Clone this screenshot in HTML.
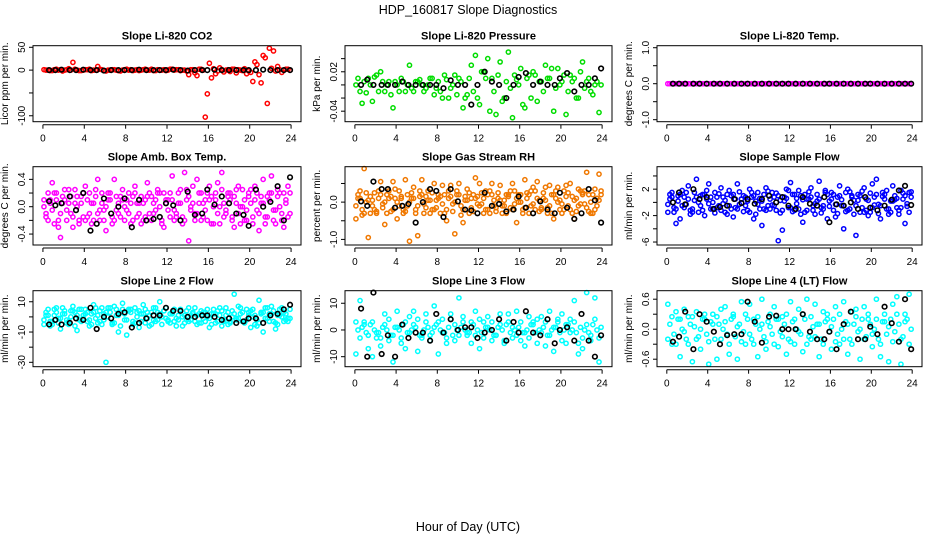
<!DOCTYPE html>
<html><head><meta charset="utf-8"><style>
html,body{margin:0;padding:0;background:#fff;}
svg{display:block;font-family:"Liberation Sans",sans-serif;}
</style></head><body>
<svg id="chart" width="936" height="540" viewBox="0 0 936 540">
<text x="468" y="14" text-anchor="middle" font-size="12.5">HDP_160817  Slope Diagnostics</text>
<text x="468" y="531" text-anchor="middle" font-size="12.5">Hour of Day (UTC)</text>
</svg>
<script>
const hours=[0.1,0.5,0.9,1.3,1.7,2.1,2.5,2.9,3.3,3.7,4.1,4.5,4.9,5.3,5.7,6.1,6.5,6.9,7.3,7.7,8.1,8.5,8.9,9.3,9.7,10.1,10.5,10.9,11.3,11.7,12.1,12.5,12.9,13.3,13.7,14.1,14.5,14.9,15.3,15.7,16.1,16.5,16.9,17.3,17.7,18.1,18.5,18.9,19.3,19.7,20.1,20.5,20.9,21.3,21.7,22.1,22.5,22.9,23.3,23.7];
const hoursB=[0.3,0.7,1.1,1.5,1.9,2.3,2.7,3.1,3.5,3.9,4.3,4.7,5.1,5.5,5.9,6.3,6.7,7.1,7.5,7.9,8.3,8.7,9.1,9.5,9.9,10.3,10.7,11.1,11.5,11.9,12.3,12.7,13.1,13.5,13.9,14.3,14.7,15.1,15.5,15.9,16.3,16.7,17.1,17.5,17.9,18.3,18.7,19.1,19.5,19.9,20.3,20.7,21.1,21.5,21.9,22.3,22.7,23.1,23.5,23.9];
const blackHours=[0.6,1.2,1.8,2.6,3.2,3.9,4.6,5.2,5.9,6.6,7.3,7.9,8.6,9.3,10.0,10.7,11.3,11.9,12.6,13.3,14.0,14.7,15.4,15.9,16.6,17.3,18.0,18.7,19.4,19.9,20.6,21.3,22.0,22.7,23.3,23.9];
const xTicks=[0,4,8,12,16,20,24];

const co2A=[1,0,-1,2,1,0,3,17,0,-1,1,2,0,8,1,-2,0,1,-1,0,2,1,0,-1,1,0,2,-1,0,1,0,2,1,-1,0,-10,1,-12,2,-103,15,3,-2,1,0,-3,2,1,-1,-8,-5,18,-10,32,-73,4,-2,1,0,2];
const co2B=[0,-1,1,0,-2,1,0,2,-1,0,1,-1,0,2,-1,0,1,0,-2,1,0,-1,1,0,2,0,-1,1,0,-1,2,0,1,0,-2,1,-6,2,0,-52,-17,-8,5,-4,1,2,-6,0,3,-2,-25,12,-28,27,48,42,8,-5,2,0];
const co2K=[0,0,1,0,0,1,0,0,-1,0,0,0,0,1,0,0,0,0,1,0,-1,0,0,0,1,0,0,0,0,0,0,1,0,0,0,0];

const presA=[0,-0.01,0.005,0.01,-0.025,0.015,0.02,-0.01,0.005,-0.035,0,0.01,-0.01,0.03,-0.01,0.005,0,-0.005,0.01,-0.015,0.005,-0.02,0.008,-0.005,0.015,0.01,-0.035,-0.015,0.03,0.045,-0.03,0.02,0.04,0.01,-0.045,0.035,-0.02,0.05,-0.05,0.008,0.025,-0.035,0.015,0.02,-0.025,0.005,0.03,0.01,-0.04,0.025,0.005,-0.045,0.015,0.01,-0.02,0.035,0.005,-0.01,0,-0.042];
const presB=[0.01,-0.028,-0.012,0,0.012,-0.01,0.005,0,-0.015,0.005,-0.01,0.005,0,-0.005,0.005,0.008,-0.01,0,0.01,-0.005,-0.01,0.015,-0.02,0,-0.015,0.005,-0.02,0.01,-0.01,-0.02,0.02,0.01,-0.04,-0.01,0.015,-0.025,0.005,-0.005,0.015,0,-0.03,0.01,-0.02,0.015,0.005,-0.01,0.01,0.025,-0.005,0,0.015,-0.01,0.005,-0.02,0.02,-0.005,0.01,-0.015,0.005,0];
const presK=[0,0.008,0,0,0,0,0.005,0,0,0,0,0,-0.005,0.007,0,0,-0.03,0,0.02,0.005,0,-0.02,0,0.012,0.018,0,0.005,0,0,0.01,0.018,-0.01,0,0,0.01,0.025];

const tempA=[0,0,0,0,0,0,0,0,0,0,0,0,0,0,0,0,0,0,0,0,0,0,0,0,0,0,0,0,0,0,0,0,0,0,0,0,0,0,0,0,0,0,0,0,0,0,0,0,0,0,0,0,0,0,0,0,0,0,0,0];
const tempK=[0,0,0,0,0,0,0,0,0,0,0,0,0,0,0,0,0,0,0,0,0,0,0,0,0,0,0,0,0,0,0,0,0,0,0,0];

const ambA=[0.1,-0.2,0.35,0.2,-0.45,0.1,0.25,-0.3,0,0.15,0.3,-0.1,-0.2,0.4,0.05,-0.35,0.2,0.4,-0.1,0.25,0.1,-0.25,0.3,0.05,-0.2,0.35,0.15,-0.05,0.2,-0.3,0.1,0.45,-0.15,0.25,0.5,-0.5,0.3,0.4,-0.2,0.1,0.3,-0.25,0.35,0.5,-0.1,0.2,-0.3,0.3,0.25,-0.2,0.05,0.3,-0.35,0.4,0.15,0.45,-0.25,0.2,-0.3,0.3];
const ambB=[-0.1,0.05,-0.25,-0.3,0.15,-0.2,-0.1,0.05,-0.2,-0.15,0.1,-0.25,0.15,-0.05,-0.2,0.1,-0.15,-0.05,0.15,-0.2,-0.1,0.15,-0.15,-0.25,0.1,-0.1,0.05,0.2,-0.2,0.05,-0.15,-0.05,0.2,-0.15,0.1,-0.05,-0.2,0.05,-0.15,0.2,-0.25,0.1,0,-0.15,0.15,-0.2,0.05,-0.25,0.1,0.2,-0.15,-0.05,0.15,-0.25,0.2,-0.05,0.15,-0.2,0.1,-0.1];
const ambC=[0,0.2,-0.05,0.1,-0.1,0.25,0.05,-0.15,0.15,0.05,-0.2,0.2,0.05,-0.1,0.2,0,0.1,-0.2,0.05,0.1,-0.05,0.05,0.2,-0.1,0.05,0.15,-0.2,0.1,0,0.2,-0.05,0.1,-0.1,0.05,-0.2,0.15,0.05,-0.1,0.2,-0.05,0.1,0,-0.1,0.25,-0.05,0.1,0.15,-0.1,0,-0.05,0.25,0.1,-0.1,0.05,-0.15,0.2,-0.05,0,0.2,-0.15];
const ambD=[-0.15,0.1,0.2,-0.2,0.05,-0.05,0.15,0.25,-0.25,0.2,-0.15,0.05,0.25,-0.2,-0.05,0.2,-0.25,0.15,-0.15,0,0.2,-0.2,0.05,0.15,-0.15,0.2,-0.1,0.25,-0.25,0.1,0.2,-0.2,0.05,-0.25,0.25,0,-0.1,0.2,0.05,-0.2,0.15,0.2,-0.25,0.05,0.2,-0.15,0.25,0,-0.2,0.15,-0.25,0.2,0.05,-0.15,0.1,-0.2,0.25,-0.1,0.05,0.2];
const ambK=[0.08,0.02,0.05,0.15,-0.05,0.2,-0.35,-0.25,0.12,-0.1,0,0.12,-0.3,0.1,-0.2,-0.18,-0.15,0.05,0.02,-0.2,0.22,-0.12,-0.1,0.25,0.03,0.15,0.05,-0.1,-0.12,-0.28,0.25,0,0.07,0.3,-0.2,0.43];

const rhA=[-0.45,0.3,0.9,-0.95,0.05,-0.3,0.55,-0.6,0.3,0.55,-0.45,0.1,0.6,-1.05,0.4,-0.9,0.6,0.15,-0.3,0.5,0.2,0.45,-0.5,0.45,-0.85,0.5,-0.55,0.35,0.1,0.65,0.5,-0.3,0.2,0.5,-0.15,0.45,0.05,0.2,0.5,-0.55,0.2,0.6,-0.3,0.4,0.55,-0.2,0.4,0.45,-0.45,0.4,-0.3,0.45,0.5,-0.45,0.35,0.25,0.8,-0.3,0.35,0.75];
const rhB=[0.2,-0.2,0,-0.3,0.25,0.1,-0.15,0.2,-0.25,0.1,0.3,-0.2,-0.1,0.25,-0.3,0.15,-0.05,0.3,-0.2,0.05,-0.3,0.2,0.1,-0.25,0.3,-0.1,0.15,-0.3,0.2,-0.05,0.25,-0.2,0.3,-0.1,0.1,-0.3,0.2,-0.15,0.3,0,-0.2,0.25,-0.1,0.3,-0.25,0.1,-0.3,0.2,0.1,-0.2,0.3,-0.1,0.15,-0.25,0.3,-0.05,0.2,-0.3,0.1,0.2];
const rhC=[-0.1,0.1,-0.3,0.05,-0.1,-0.25,0.2,0,0.1,-0.2,0,0.15,-0.25,0,0.1,-0.1,0.2,-0.15,0.05,-0.2,0.1,-0.05,-0.2,0.15,0,0.2,-0.2,0.05,-0.15,0.1,-0.1,0.1,-0.2,0.2,-0.25,0.05,-0.1,0.15,-0.2,0.1,0,-0.15,0.2,-0.05,0.1,-0.15,0.05,-0.1,0.2,0,-0.05,0.15,-0.2,0.05,-0.1,0.2,-0.15,0,-0.2,0.05];
const rhD=[0.1,-0.35,0.25,0.15,-0.2,0.3,-0.05,-0.3,0.15,0.35,-0.1,-0.3,0.2,0.1,-0.2,0.3,-0.3,0.05,0.25,-0.15,0.15,-0.3,0.3,-0.05,0.2,-0.35,0.05,0.25,-0.25,0.15,-0.05,0.3,-0.3,0.05,0.25,-0.1,-0.3,0.3,-0.05,0.2,-0.3,0.1,0.3,-0.2,0.05,0.25,-0.15,-0.3,0.3,0.05,-0.2,0.25,-0.3,0.1,-0.05,0.3,-0.25,0.2,-0.1,0.3];
const rhK=[0.02,-0.1,0.55,0.35,0.35,-0.15,-0.1,-0.05,-0.55,0,0.35,0.3,-0.4,0.35,0.02,-0.2,-0.22,-0.3,0.25,-0.1,-0.05,-0.25,-0.2,0.15,-0.15,-0.3,0.02,-0.2,-0.3,0.25,-0.15,-0.45,-0.3,0.35,0.05,-0.55];

const sfA=[-1.5,1.5,-3.2,-2.5,0.8,2.5,-1,3.5,1,-2,2.8,0,-0.8,2.2,-1.5,1.8,-2.2,2.8,0.5,-0.5,2,-2.5,1.5,-3.5,2.2,-1,0.8,-5.8,-4.2,2,3,-1.2,1.8,-3,0.5,2.2,-1.8,3.2,-0.5,-2.5,1.5,-2.2,2.5,-4,2,1,-5,-1.5,2.2,-2,2.8,3.5,-2.5,1.2,-1.8,2.5,-0.8,1.8,-3.2,1.5];
const sfB=[0.5,-0.8,1,-0.5,1.5,-1.2,0.3,-1.5,1.2,0.5,-1,1.5,-0.5,0.8,1.2,-1,0.5,-0.3,1,-1.2,0.8,0.2,-1,1.2,-0.5,1.5,-1.2,0.3,0.8,-0.8,1.2,-0.2,1,-1.5,0.5,-0.5,1.2,-0.8,1.5,0.2,-1.2,0.8,-0.5,1.5,-1,0.3,1.2,-0.8,0.5,-1.5,0.8,-0.3,1.5,-1,0.2,1,-1.2,0.5,-0.2,0.8];
const sfC=[-0.3,0.8,-1,1.2,-0.8,0.5,-1.5,0.8,-0.5,1.2,-0.2,-1,0.8,-1.2,0.3,-0.5,1.2,-1,0.5,0.8,-1.5,1,-0.3,0.2,-1.2,0.5,-0.5,1,-1.2,0.6,-0.8,1.2,-1,0.4,-1.2,0.8,-0.2,0.5,-1,1.2,0.5,-0.3,1,-0.5,-1.2,0.8,-0.5,1,-1.5,0.3,-0.8,1.2,-0.5,0.5,-1,0.2,0.6,-0.8,1,-1.5];
const sfD=[1.2,-1.5,0.2,1.8,-0.3,-1.8,1.5,0,-1.2,1.8,0.8,-1.6,1.3,-0.2,-1.8,1,-0.8,1.6,-1.4,0.2,1.5,-1.8,0.6,-1,1.7,-0.4,1.4,-1.6,0.2,1.8,-1.4,0.6,-1.8,1.2,1.6,-1.2,0.2,-1.6,1.8,-0.6,1.2,-1.7,0.4,-1.4,1.6,-1.8,0.3,1.7,-1.2,1.4,-0.4,-1.7,0.9,1.8,-1.5,0.4,-1.8,1.4,-0.6,1.6];
const sfK=[0,1.5,-0.3,2,0.5,0.8,-1,-0.7,-0.5,0.5,-0.1,0.5,-0.2,0.5,1,0,0.8,-0.5,-1,0.8,-0.2,-0.5,0.8,-3,-0.3,-0.5,0,-1,0.8,-0.8,-1.2,-0.5,0.4,1.8,2.5,-0.4];

const l2A=[-2,5,-5,6,-8,4,-3,7,-9,5,2,-6,8,-4,6,-30,3,7,-10,9,-12,5,6,-7,8,3,-5,6,10,4,-3,2,-6,5,-4,6,3,-5,4,-3,-7,5,4,-6,6,-4,15,7,-3,5,-7,-5,11,-10,6,7,-8,5,-3,-3];
const l2B=[3,-3,1,-1,2,-4,0,3,-2,1,-3,2,-1,4,-2,0,-5,1,3,-2,4,-3,0,2,-4,1,-2,3,0,-1,2,-3,1,0,-2,1,-3,2,-1,0,2,-4,1,-2,3,0,-1,2,-3,1,0,-2,3,-1,2,-3,1,0,2,-1];
const l2C=[-5,1,-3,3,-1,2,-5,4,1,-3,5,-2,3,1,-5,3,6,-4,1,5,-2,3,-4,4,2,-1,3,-3,2,4,-2,3,-1,4,1,-3,2,1,-4,3,-1,2,-3,4,1,-3,2,-1,3,-2,4,1,-4,3,-1,2,-4,1,3,-1];
const l2D=[1,-6,5,-4,6,-2,4,-6,5,-1,3,-5,6,-3,2,6,-4,5,-6,2,5,-5,3,-3,5,-6,6,-2,-5,6,-4,5,-2,-6,4,-2,6,-4,3,5,-5,2,6,-3,-5,4,-2,6,-4,3,5,-6,2,6,-3,4,-5,6,-2,5];
const l2K=[-5,-2,-5,-4,-1,-2,6,-8,0,-1,2,3,-7,-4,-1,1,1,6,4,4,0,0,1,1,0,-2,-1,-4,-3,-1,-1,-4,1,2,5,8];

const l3A=[-9,11,3,-7,-10,-3,-6,6,-4,-12,7,-5,-7,5,7,-8,-3,6,-2,9,-9,4,-5,6,-4,12,5,-2,-5,7,-7,3,5,-4,-2,6,-5,6,-3,7,-4,-6,5,3,-5,5,-6,7,-8,4,6,-5,4,11,-9,-7,14,-4,12,-12];
const l3B=[0,1,-1,2,0,-1,1,0,-2,1,0,2,-1,0,1,-2,0,1,-1,2,0,-1,1,-2,0,1,0,-1,2,0,-1,1,0,-2,1,0,2,-1,0,1,-1,0,2,-1,0,1,-2,0,1,-1,0,2,0,-1,1,0,-1,2,0,1];
const l3C=[3,-3,2,-2,3,-1,-3,2,4,-2,1,-3,3,-1,2,4,-2,3,-4,1,3,-1,-3,4,2,-2,3,-1,3,-2,4,-3,1,3,-2,2,-4,3,1,-2,3,-1,-3,2,4,-1,3,-2,1,3,-4,2,-1,3,-5,-3,2,-2,4,-3];
const l3K=[8,-10,14,-9,-2,-10,2,-3,-1,-1,-4,6,-1,4,0,1,1,-3,-1,0,4,-4,3,-1,7,-1,-2,4,-5,0,1,-4,6,-4,-10,-2];

const l4A=[0.5,-0.3,0.35,-0.55,0.4,0.25,-0.65,0.35,-0.4,0.2,-0.7,0.3,-0.6,0.4,0.45,-0.5,0.3,-0.6,0.55,-0.3,0.5,0.2,-0.55,0.6,-0.4,0.3,0.45,-0.35,0.25,-0.5,0.55,-0.3,0.4,-0.45,0.6,-0.2,0.5,-0.55,0.35,0.3,-0.4,0.45,-0.3,0.55,-0.5,0.35,0.4,-0.6,0.45,0.2,-0.35,0.6,-0.55,0.3,-0.65,0.5,0.65,-0.7,0.3,0.7];
const l4B=[0.1,-0.1,0.2,0,-0.2,0.1,0.05,-0.15,0.2,-0.1,0.15,-0.2,0.1,0,-0.1,0.2,-0.15,0.1,-0.05,0.2,-0.2,0.1,0,-0.15,0.15,-0.1,0.2,-0.05,0.1,-0.2,0.15,0,-0.1,0.2,-0.15,0.05,0.1,-0.2,0.15,-0.05,0.2,-0.1,0,0.15,-0.2,0.1,-0.05,0.2,-0.15,0.1,0,-0.2,0.15,-0.1,0.2,-0.05,0.1,-0.15,0.2,0];
const l4C=[-0.2,0.25,-0.3,0.2,-0.05,-0.3,0.25,-0.2,0,0.3,-0.25,0.1,0.25,-0.2,0.15,-0.3,0.25,0.05,-0.25,0.3,-0.1,-0.3,0.25,0.1,-0.25,0.05,-0.3,0.2,-0.15,0.3,-0.25,0.2,-0.05,0.3,-0.3,0.25,-0.15,0.1,-0.3,0.2,0.05,-0.25,0.3,-0.2,0.1,-0.3,0.25,0,-0.2,0.3,-0.1,0.2,-0.3,0.15,0.05,-0.25,0.3,-0.2,0.15,-0.3];
const l4K=[-0.25,-0.15,0.35,-0.4,0.3,0.15,-0.05,-0.3,-0.12,-0.1,-0.1,0.55,0.15,-0.27,0.25,0.27,0,0,0,0.3,-0.05,-0.2,-0.2,-0.05,-0.4,0.1,0.35,-0.2,-0.2,0.05,-0.1,0.45,0.12,-0.25,0.6,-0.4];

const co2Ticks=[50,0,-50,-100], co2Labels=["50","0","","-100"];
const presTicks=[0.04,0.02,0,-0.02,-0.04], presLabels=["","0.02","","","-0.04"];
const tempTicks=[1,0.5,0,-0.5,-1], tempLabels=["1.0","","0.0","","-1.0"];
const ambTicks=[0.4,0.2,0,-0.2,-0.4], ambLabels=["0.4","","0.0","","-0.4"];
const rhTicks=[0.5,0,-0.5,-1], rhLabels=["","0.0","","-1.0"];
const sfTicks=[4,2,0,-2,-4,-6], sfLabels=["","2","","-2","","-6"];
const l2Ticks=[10,0,-10,-20,-30], l2Labels=["10","","-10","","-30"];
const l3Ticks=[10,0,-10], l3Labels=["10","0","-10"];
const l4Ticks=[0.6,0.3,0,-0.3,-0.6], l4Labels=["0.6","","0.0","","-0.6"];

const svg=document.getElementById('chart');
const NS='http://www.w3.org/2000/svg';
function mk(tag,attrs,parent){const e=document.createElementNS(NS,tag);for(const k in attrs)e.setAttribute(k,attrs[k]);(parent||svg).appendChild(e);return e;}

const cols=[{l:33,r:301},{l:345,r:612},{l:657,r:922}];
const rows=[{t:45.7,b:121.7},{t:166.7,b:245},{t:290.7,b:366.7}];
const panels=[
 {key:'co2',title:'Slope Li-820 CO2',ylab:'Licor ppm per min.',c:0,r:0,y0:-113,y1:53.5,ticks:co2Ticks,labels:co2Labels,color:'#ff0000',series:[co2A,co2B],black:co2K},
 {key:'pressure',title:'Slope Li-820 Pressure',ylab:'kPa per min.',c:1,r:0,y0:-0.056,y1:0.0597,ticks:presTicks,labels:presLabels,color:'#00dd00',series:[presA,presB],black:presK},
 {key:'li820-temp',title:'Slope Li-820 Temp.',ylab:'degrees C per min.',c:2,r:0,y0:-1.056,y1:1.056,ticks:tempTicks,labels:tempLabels,color:'#ff00ff',series:[tempA,tempA],black:tempK},
 {key:'amb-box-temp',title:'Slope Amb. Box Temp.',ylab:'degrees C per min.',c:0,r:1,y0:-0.56,y1:0.585,ticks:ambTicks,labels:ambLabels,color:'#ff00ff',series:[ambA,ambB,ambC,ambD],black:ambK},
 {key:'gas-stream-rh',title:'Slope Gas Stream RH',ylab:'percent per min.',c:1,r:1,y0:-1.15,y1:0.95,ticks:rhTicks,labels:rhLabels,color:'#f07800',series:[rhA,rhB,rhC,rhD],black:rhK},
 {key:'sample-flow',title:'Slope Sample Flow',ylab:'ml/min per min.',c:2,r:1,y0:-6.45,y1:5.4,ticks:sfTicks,labels:sfLabels,color:'#0000ff',series:[sfA,sfB,sfC,sfD],black:sfK},
 {key:'line2-flow',title:'Slope Line 2 Flow',ylab:'ml/min per min.',c:0,r:2,y0:-32.9,y1:17.3,ticks:l2Ticks,labels:l2Labels,color:'#00ffff',series:[l2A,l2B,l2C,l2D],black:l2K},
 {key:'line3-flow',title:'Slope Line 3 Flow',ylab:'ml/min per min.',c:1,r:2,y0:-13.75,y1:14.7,ticks:l3Ticks,labels:l3Labels,color:'#00ffff',series:[l3A,l3B,l3C],black:l3K},
 {key:'line4-flow',title:'Slope Line 4 (LT) Flow',ylab:'ml/min per min.',c:2,r:2,y0:-0.75,y1:0.77,ticks:l4Ticks,labels:l4Labels,color:'#00ffff',series:[l4A,l4B,l4C],black:l4K}
];

panels.forEach(p=>{
  const L=cols[p.c].l,R=cols[p.c].r,T=rows[p.r].t,B=rows[p.r].b;
  const x=h=>L+(h+0.96)/25.92*(R-L);
  const y=v=>B-(v-p.y0)/(p.y1-p.y0)*(B-T);
  const g=mk('g',{});
  
  
  const t=mk('text',{x:(L+R)/2,y:T-6,'text-anchor':'middle','font-size':'11','font-weight':'bold'},g);
  t.textContent=p.title;
  
  
  const yl=mk('text',{transform:`translate(${L-25},${(T+B)/2}) rotate(-90)`,'text-anchor':'middle','font-size':'10'},g);
  yl.textContent=p.ylab;
  
  
  p.ticks.forEach((tv,i)=>{
    const yy=y(tv);
    mk('line',{x1:L,x2:L-4,y1:yy,y2:yy,stroke:'#000','stroke-width':1},g);
    if(p.labels[i]){
      const lb=mk('text',{transform:`translate(${L-8},${yy}) rotate(-90)`,'text-anchor':'middle','font-size':'10'},g);
      lb.textContent=p.labels[i];
      
      
    }
  });
  mk('line',{x1:L,x2:L,y1:y(p.ticks[0]),y2:y(p.ticks[p.ticks.length-1]),stroke:'#000'},g);
  const ay=B+3;
  mk('line',{x1:x(0),x2:x(24),y1:ay,y2:ay,stroke:'#000'},g);
  xTicks.forEach(h=>{
    mk('line',{x1:x(h),x2:x(h),y1:ay,y2:ay+4,stroke:'#000'},g);
    const lb=mk('text',{x:x(h),y:ay+17,'text-anchor':'middle','font-size':'10'},g);
    lb.textContent=String(h);
    
    
  });
  p.series.forEach((s,si)=>{
    const hs=(si%2===0)?hours:hoursB;
    s.forEach((v,i)=>{
      const c=mk('circle',{cx:x(hs[i]),cy:y(v),r:2.1,fill:'none',stroke:p.color,'stroke-width':1.5},g);
      
      
    });
  });
  p.black.forEach((v,i)=>{
    const c=mk('circle',{cx:x(blackHours[i]),cy:y(v),r:2.3,fill:'none',stroke:'#000','stroke-width':1.6},g);
    
    
  });
  const box=mk('rect',{x:L,y:T,width:R-L,height:B-T,fill:'none',stroke:'#000','stroke-width':1},g);
  
  
});
</script>
</body></html>
